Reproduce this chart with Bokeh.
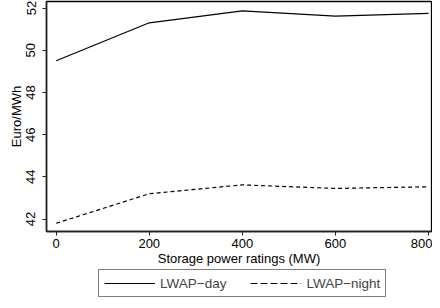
from bokeh.plotting import figure
from bokeh.models import FixedTicker, Legend, LegendItem, Range1d
from bokeh.layouts import column
from bokeh.embed import file_html
from bokeh.resources import INLINE

storage_mw = [0, 200, 400, 600, 800]
lwap_day = [49.5, 51.3, 51.87, 51.62, 51.75]
lwap_night = [41.8, 43.2, 43.62, 43.45, 43.53]
x_ticks = [0, 200, 400, 600, 800]
y_ticks = [42, 44, 46, 48, 50, 52]
series_labels = ["LWAP\u2212day", "LWAP\u2212night"]

FONT = "Liberation Sans"

p = figure(width=432, height=268, output_backend="svg", toolbar_location=None,
           x_range=Range1d(-20.8, 806.4), y_range=Range1d(41.41, 52.31),
           min_border_left=46, min_border_right=1, min_border_top=1, min_border_bottom=37)

p.line(storage_mw, lwap_day, line_color="black", line_width=1.2)
p.line(storage_mw, lwap_night, line_color="black", line_width=1.2, line_dash="4 3")

p.grid.visible = False
p.outline_line_color = "black"
p.outline_line_width = 1.3
p.background_fill_color = "white"
p.border_fill_color = "white"

p.xaxis.ticker = FixedTicker(ticks=x_ticks)
p.yaxis.ticker = FixedTicker(ticks=y_ticks)
p.xaxis.axis_label = "Storage power ratings (MW)"
p.yaxis.axis_label = "Euro/MWh"
p.yaxis.major_label_orientation = "vertical"
for ax in (p.xaxis[0], p.yaxis[0]):
    ax.minor_tick_line_color = None
    ax.major_tick_out = 4
    ax.major_tick_in = 0
    ax.axis_line_width = 1.6
    ax.axis_line_color = "#222222"
    ax.major_tick_line_color = "#222222"
    ax.major_label_text_font = FONT
    ax.major_label_text_font_size = "13px"
    ax.major_label_text_color = "black"
    ax.axis_label_text_font = FONT
    ax.axis_label_text_font_size = "13px"
    ax.axis_label_text_font_style = "normal"
    ax.axis_label_text_color = "black"
    ax.axis_label_standoff = 0
p.xaxis.major_label_standoff = 3
p.yaxis.major_label_standoff = 7

# legend strip below the chart (series drawn off-range so only the legend shows)
lg = figure(width=432, height=32, output_backend="svg", toolbar_location=None,
            x_range=Range1d(-1000, -999), y_range=Range1d(0, 1),
            x_axis_type=None, y_axis_type=None, min_border=0)
lg.outline_line_color = None
lg.background_fill_color = "white"
lg.border_fill_color = "white"
d1 = lg.line(storage_mw, lwap_day, line_color="black", line_width=1.2)
d2 = lg.line(storage_mw, lwap_night, line_color="black", line_width=1.2, line_dash="7 3")
legend = Legend(items=[LegendItem(label=series_labels[0], renderers=[d1]),
                       LegendItem(label=series_labels[1], renderers=[d2])],
                orientation="horizontal", location=(52, 3),
                label_text_font=FONT, label_text_font_size="13.5px",
                glyph_width=51, glyph_height=16, label_height=16,
                spacing=24, padding=5, margin=0,
                border_line_color="black", border_line_width=1,
                label_standoff=5, background_fill_alpha=1)
lg.add_layout(legend, "center")

open("out.html", "w").write(file_html(column(p, lg), INLINE))
